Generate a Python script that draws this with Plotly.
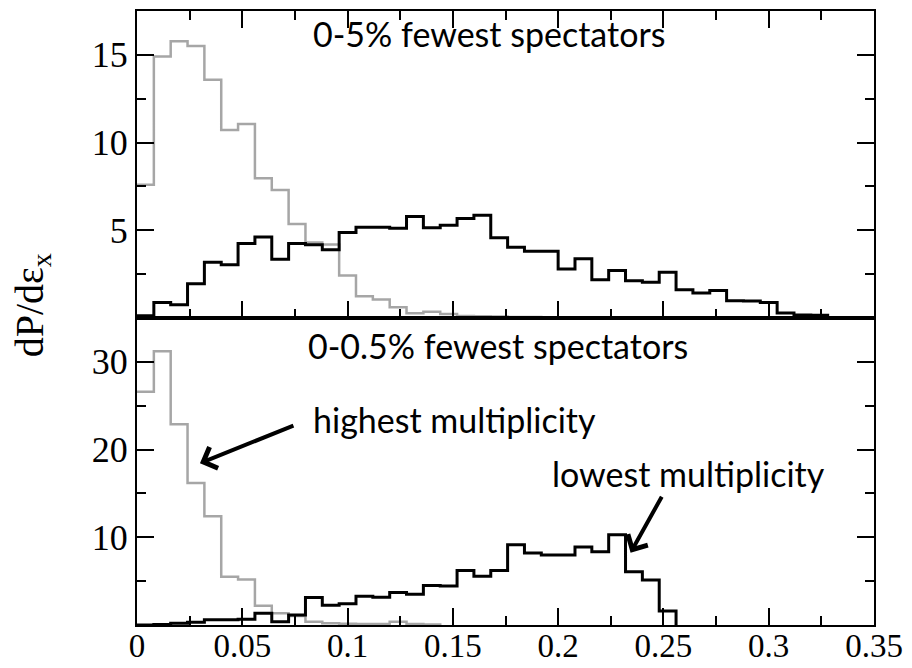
import plotly.graph_objects as go

# ---------------- data ----------------
bin_width = 0.008

# top panel: 0-5% fewest spectators
top_low_mult = [0.13, 0.89, 0.76, 1.95, 3.18, 3.03, 4.24, 4.62, 3.35, 4.24,
                4.18, 3.89, 4.88, 5.17, 5.17, 5.12, 5.78, 5.14, 5.28, 5.67,
                5.86, 4.58, 4.04, 3.81, 3.81, 2.80, 3.38, 2.18, 2.71, 2.12,
                2.04, 2.61, 1.61, 1.43, 1.57, 0.99, 0.97, 0.89, 0.29, 0.17,
                0.15]
top_high_mult = [7.6, 14.9, 15.78, 15.5, 13.58, 10.72, 11.06, 7.96, 7.29, 5.36,
                 4.3, 4.19, 2.42, 1.24, 1.05, 0.61, 0.27, 0.36, 0.23, 0.11,
                 0.10, 0.08, 0.06, 0.05, 0.04]

# bottom panel: 0-0.5% fewest spectators
bot_low_mult = [0.0, 0.05, 0.2, 0.3, 0.6, 0.6, 0.65, 1.35, 0.38, 1.14,
                3.13, 2.24, 2.43, 3.27, 3.15, 3.7, 3.5, 4.5, 4.45, 6.2,
                5.55, 6.2, 9.15, 8.2, 7.98, 7.98, 8.9, 8.35, 10.3, 6.08,
                5.13, 1.6]
bot_high_mult = [26.6, 31.2, 22.9, 16.2, 12.4, 5.5, 5.2, 2.2, 1.35, 1.03,
                 0.38, 0.19, 0.15, 0.12, 0.10, 0.38, 0.10, 0.05]

x_tick_vals = [0, 0.05, 0.1, 0.15, 0.2, 0.25, 0.3, 0.35]
x_tick_text = ["0", "0.05", "0.1", "0.15", "0.2", "0.25", "0.3", "0.35"]
x_minor_vals = [0.025, 0.075, 0.125, 0.175, 0.225, 0.275, 0.325]
top_y_ticks = [5, 10, 15]
top_y_minor = [2.5, 7.5, 12.5]
bot_y_ticks = [10, 20, 30]
bot_y_minor = [5, 15, 25]

GRAY = "#a6a6a6"
BLACK = "#000000"
SERIF = "Liberation Serif"


def step_xy(values):
    xs = [i * bin_width for i in range(len(values))] + [len(values) * bin_width]
    ys = list(values) + [0.0]
    return xs, ys


fig = go.Figure()
for vals, color, w, xa, ya in [
    (top_high_mult, GRAY, 2.5, "x", "y"),
    (top_low_mult, BLACK, 3, "x", "y"),
    (bot_high_mult, GRAY, 2.5, "x2", "y2"),
    (bot_low_mult, BLACK, 3, "x2", "y2"),
]:
    xs, ys = step_xy(vals)
    fig.add_trace(go.Scatter(x=xs, y=ys, mode="lines", line=dict(color=color, width=w, shape="hv"),
                             xaxis=xa, yaxis=ya, showlegend=False, hoverinfo="skip"))

xtickfont = dict(family=SERIF, size=33, color="black")
ytickfont = dict(family=SERIF, size=36, color="black")
minor_x = dict(tickmode="array", tickvals=x_minor_vals, ticks="inside",
               ticklen=9, tickwidth=1.5, tickcolor="black")
common_x = dict(range=[0, 0.35], showline=True, linecolor="black", linewidth=2,
                ticks="inside", ticklen=17, tickwidth=1.5, tickcolor="black",
                tickmode="array", tickvals=x_tick_vals, ticktext=x_tick_text,
                showgrid=False, zeroline=False, tickfont=xtickfont, automargin=False)
common_y = dict(showline=True, linecolor="black", linewidth=2, mirror="ticks",
                ticks="inside", ticklen=17, tickwidth=1.5, tickcolor="black",
                showgrid=False, zeroline=False, tickfont=ytickfont, automargin=False)

fig.update_layout(
    width=912, height=668,
    margin=dict(l=137, r=38, t=11, b=43, autoexpand=False),
    font=dict(family=SERIF, color="black"),
    paper_bgcolor="white", plot_bgcolor="white",
    xaxis=dict(**common_x, anchor="y", mirror="ticks", showticklabels=False, minor=minor_x),
    xaxis2=dict(**common_x, anchor="y2", mirror=True, matches="x", minor=minor_x,
                ticklabelstandoff=-10),
    yaxis=dict(**common_y, domain=[0.5, 1], range=[0, 17.5], tickmode="array",
               tickvals=top_y_ticks,
               minor=dict(tickmode="array", tickvals=top_y_minor, ticks="inside",
                          ticklen=9, tickwidth=1.5, tickcolor="black")),
    yaxis2=dict(**common_y, domain=[0, 0.5], range=[0, 35], tickmode="array",
                tickvals=bot_y_ticks,
                minor=dict(tickmode="array", tickvals=bot_y_minor, ticks="inside",
                           ticklen=9, tickwidth=1.5, tickcolor="black")),
)

txtfont = dict(family="Lato", size=34, color="black")
fig.add_annotation(x=0.167, y=16.2, xref="x", yref="y", text="0-5% fewest spectators",
                   showarrow=False, font=txtfont, xanchor="center", yanchor="middle")
fig.add_annotation(x=0.1716, y=31.9, xref="x2", yref="y2", text="0-0.5% fewest spectators",
                   showarrow=False, font=txtfont, xanchor="center", yanchor="middle")
fig.add_annotation(x=0.151, y=23.4, xref="x2", yref="y2", text="highest multiplicity",
                   showarrow=False, font=txtfont, xanchor="center", yanchor="middle")
fig.add_annotation(x=0.262, y=17.3, xref="x2", yref="y2", text="lowest multiplicity",
                   showarrow=False, font=txtfont, xanchor="center", yanchor="middle")
# arrows
fig.add_annotation(x=0.0299, y=18.44, ax=0.075, ay=22.8, xref="x2", yref="y2",
                   axref="x2", ayref="y2", text="", showarrow=True, arrowhead=4,
                   arrowsize=1.1, arrowwidth=4, arrowcolor="black")
fig.add_annotation(x=0.2344, y=8.24, ax=0.2496, ay=14.8, xref="x2", yref="y2",
                   axref="x2", ayref="y2", text="", showarrow=True, arrowhead=4,
                   arrowsize=1.1, arrowwidth=4, arrowcolor="black")
# y axis title
fig.add_annotation(x=-0.143, y=0.52, xref="paper", yref="paper",
                   text="dP/dε<sub>x</sub>", textangle=-90, showarrow=False,
                   xanchor="center", yanchor="middle",
                   font=dict(family=SERIF, size=40, color="black"))

fig.write_html("out.html")
